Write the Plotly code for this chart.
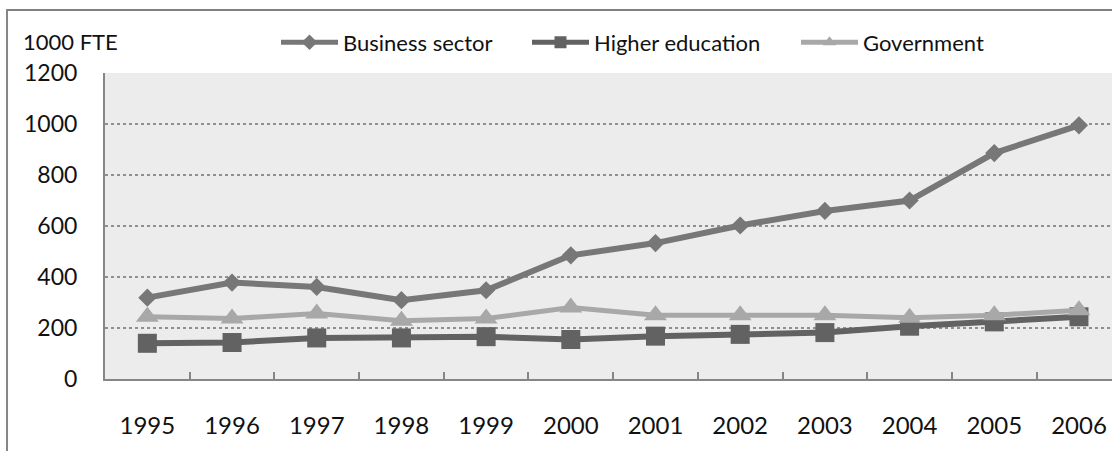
import plotly.graph_objects as go

years = ["1995", "1996", "1997", "1998", "1999", "2000", "2001", "2002", "2003", "2004", "2005", "2006"]
business = [319, 378, 361, 309, 348, 485, 533, 602, 659, 700, 886, 995]
higher_ed = [140, 143, 161, 161, 166, 155, 168, 175, 182, 207, 224, 244]
government = [244, 237, 257, 228, 237, 280, 250, 250, 250, 240, 250, 270]
y_ticks = [0, 200, 400, 600, 800, 1000, 1200]

FONT = "Lato"
AXIS = "#868686"
TXT = "#111111"

fig = go.Figure()
fig.add_trace(go.Scatter(
    x=years, y=business, name="Business sector", mode="lines+markers",
    line=dict(color="#777777", width=6),
    marker=dict(symbol="diamond", size=14, color="#777777"),
    legend="legend",
))
fig.add_trace(go.Scatter(
    x=years, y=higher_ed, name="Higher education", mode="lines+markers",
    line=dict(color="#626262", width=6),
    marker=dict(symbol="square", size=19, color="#626262"),
    legend="legend2",
))
fig.add_trace(go.Scatter(
    x=years, y=government, name="Government", mode="lines+markers",
    line=dict(color="#a8a8a8", width=5),
    marker=dict(symbol="triangle-up", size=20, color="#a8a8a8"),
    legend="legend3",
))

def leg(xpix):
    return dict(
        orientation="h", x=(xpix - 105) / 1007, xanchor="left", y=1.1, yanchor="middle",
        font=dict(family=FONT, size=22, color=TXT),
        bgcolor="rgba(0,0,0,0)", itemsizing="constant", itemwidth=57,
    )

FRAME_X = -0.0973

fig.update_layout(
    width=1112, height=451,
    margin=dict(l=105, r=0, t=73, b=72, autoexpand=False),
    paper_bgcolor="white",
    plot_bgcolor="#ececec",
    font=dict(family=FONT, size=22, color=TXT),
    showlegend=True,
    legend=leg(276),
    legend2=leg(527),
    legend3=leg(796),
    xaxis=dict(
        type="category", range=[-0.5, 11.39],
        showline=True, linecolor=AXIS, linewidth=2,
        ticks="inside", tickson="boundaries", ticklen=7, tickcolor=AXIS, tickwidth=2,
        showgrid=False, zeroline=False, ticklabelstandoff=24,
        tickfont=dict(family=FONT, size=24, color=TXT),
    ),
    yaxis=dict(
        range=[0, 1200], tickvals=y_ticks,
        showline=True, linecolor=AXIS, linewidth=2,
        ticks="", showgrid=True, gridcolor="#8f8f8f", gridwidth=1.5, griddash="dot",
        zeroline=False, ticklabelstandoff=21,
        tickfont=dict(family=FONT, size=23, color=TXT),
    ),
    shapes=[
        # top border of the chart frame, as a thin filled band
        dict(type="rect", xref="paper", yref="paper",
             x0=FRAME_X, x1=1.0, y0=1.2026, y1=1.2092,
             fillcolor="#808080", line=dict(width=0), layer="above"),
        # left border of the chart frame
        dict(type="line", xref="paper", yref="paper",
             x0=FRAME_X, x1=FRAME_X, y0=-0.3, y1=1.209,
             line=dict(color=AXIS, width=2), layer="above"),
    ],
    annotations=[dict(
        text="1000 FTE", xref="paper", yref="paper",
        x=-0.083, y=1.103, xanchor="left", yanchor="middle", showarrow=False,
        font=dict(family=FONT, size=22, color=TXT),
    )],
)

fig.write_html(
    "out.html",
    config={"displayModeBar": False},
    post_script="document.body.style.margin='0';document.body.style.overflow='hidden';",
)
